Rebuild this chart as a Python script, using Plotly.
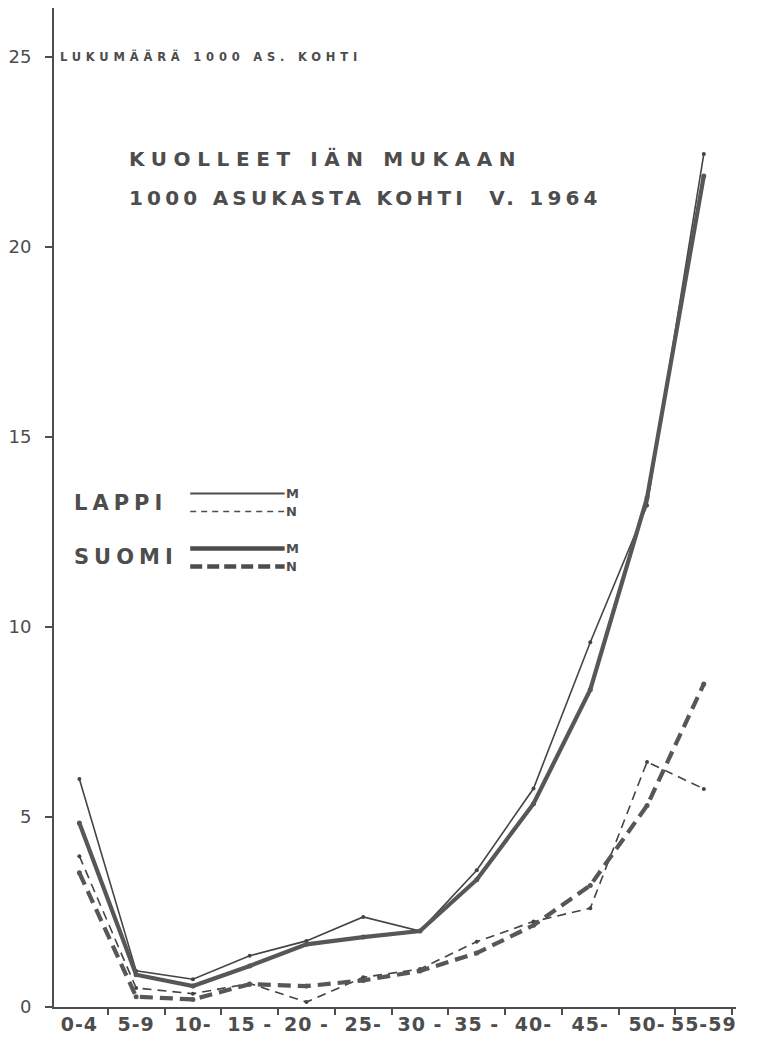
import plotly.graph_objects as go

# ---- data ----
age_groups = ["0-4", "5-9", "10-", "15 -", "20 -", "25-", "30 -", "35 -", "40-", "45-", "50-", "55-59"]
lappi_m = [6.0, 0.95, 0.73, 1.35, 1.74, 2.37, 2.0, 3.6, 5.75, 9.6, 13.2, 22.45]
lappi_n = [3.97, 0.5, 0.35, 0.62, 0.13, 0.78, 1.0, 1.72, 2.25, 2.6, 6.45, 5.74]
suomi_m = [4.84, 0.85, 0.55, 1.08, 1.65, 1.84, 2.0, 3.35, 5.35, 8.35, 13.4, 21.87]
suomi_n = [3.53, 0.27, 0.2, 0.6, 0.55, 0.7, 0.95, 1.42, 2.15, 3.2, 5.3, 8.5]
y_ticks = [0, 5, 10, 15, 20, 25]

INK = "#4d4d4d"
FONT = "DejaVu Sans"
W, H = 758, 1043
L, R, T, B = 50, 22, 8, 35

x_idx = list(range(len(age_groups)))


def px(x):
    return (x - L) / (W - L - R)


def py(y):
    return (H - B - y) / (H - T - B)


def spaced(text, sp):
    return f'<span style="letter-spacing:{sp}px">{text}</span>'


fig = go.Figure()

series = [
    ("LAPPI M", lappi_m, 1.6, "solid", 4, "#444444"),
    ("LAPPI N", lappi_n, 1.6, "9px,6px", 4, "#444444"),
    ("SUOMI M", suomi_m, 4.2, "solid", 5, "#575757"),
    ("SUOMI N", suomi_n, 4.2, "13px,7px", 5, "#575757"),
]
for name, vals, w, dash, ms, col in series:
    fig.add_trace(go.Scatter(
        x=x_idx, y=vals, name=name, mode="lines+markers",
        line=dict(color=col, width=w, dash=dash),
        marker=dict(color=col, size=ms),
        showlegend=False,
    ))

xr = [-0.447, 11.567]
fig.update_layout(
    width=W, height=H,
    margin=dict(l=L, r=R, t=T, b=B),
    paper_bgcolor="white", plot_bgcolor="white",
    font=dict(family=FONT, color=INK),
    xaxis=dict(
        range=xr, tickvals=[i + 0.5 for i in x_idx], ticktext=[""] * len(x_idx),
        ticks="outside", ticklen=6, tickwidth=2, tickcolor=INK,
        showline=True, linewidth=2, linecolor=INK,
        showgrid=False, zeroline=False,
    ),
    xaxis2=dict(
        range=xr, overlaying="x", anchor="y", side="bottom",
        tickvals=x_idx, ticktext=[spaced(a, 1) for a in age_groups],
        ticks="", showline=False, showgrid=False, zeroline=False,
        tickfont=dict(size=19, family=FONT, color=INK, weight="bold"), ticklabelstandoff=4,
    ),
    yaxis=dict(
        range=[0, 26.29], tickvals=y_ticks, ticktext=[str(v) for v in y_ticks],
        ticks="outside", ticklen=7, tickwidth=2, tickcolor=INK,
        showline=True, linewidth=2, linecolor=INK,
        showgrid=False, zeroline=False,
        tickfont=dict(size=18, family=FONT, color=INK), ticklabelstandoff=10,
    ),
)
# invisible trace so xaxis2 is drawn
fig.add_trace(go.Scatter(x=[None], y=[None], xaxis="x2", showlegend=False, hoverinfo="skip"))

ann = []
ann.append(dict(text=spaced("LUKUMÄÄRÄ 1000 AS. KOHTI", 4.8), x=px(54), y=py(57),
                xref="paper", yref="paper", xanchor="left", yanchor="middle",
                showarrow=False, font=dict(size=11.5, family=FONT, color=INK, weight="bold")))
ann.append(dict(text=spaced("KUOLLEET IÄN MUKAAN", 6.6), x=px(123), y=py(159),
                xref="paper", yref="paper", xanchor="left", yanchor="middle",
                showarrow=False, font=dict(size=20, family=FONT, color=INK, weight="bold")))
ann.append(dict(text=spaced("1000 ASUKASTA KOHTI  V. 1964", 4.2), x=px(123), y=py(198),
                xref="paper", yref="paper", xanchor="left", yanchor="middle",
                showarrow=False, font=dict(size=20, family=FONT, color=INK, weight="bold")))
# legend text
for label, yc in [("LAPPI", 503), ("SUOMI", 558)]:
    ann.append(dict(text=spaced(label, 5), x=px(68), y=py(yc),
                    xref="paper", yref="paper", xanchor="left", yanchor="middle",
                    showarrow=False, font=dict(size=21, family=FONT, color=INK, weight="bold")))
for label, yc in [("M", 494), ("N", 512), ("M", 549), ("N", 567)]:
    ann.append(dict(text=label, x=px(281), y=py(yc),
                    xref="paper", yref="paper", xanchor="left", yanchor="middle",
                    showarrow=False, font=dict(size=13, family=FONT, color=INK, weight="bold")))
fig.update_layout(annotations=ann)

# legend line samples
shapes = []
for yc, w, dash in [(494, 1.8, "solid"), (512, 1.6, "6px,5px"), (549, 4.5, "solid"), (567, 4.5, "12px,5px")]:
    shapes.append(dict(type="line", xref="paper", yref="paper",
                       x0=px(187), x1=px(282), y0=py(yc), y1=py(yc),
                       line=dict(color=INK, width=w, dash=dash)))
fig.update_layout(shapes=shapes)

fig.write_html("out.html", post_script="document.body.style.margin='0';",
               config={"displayModeBar": False})
